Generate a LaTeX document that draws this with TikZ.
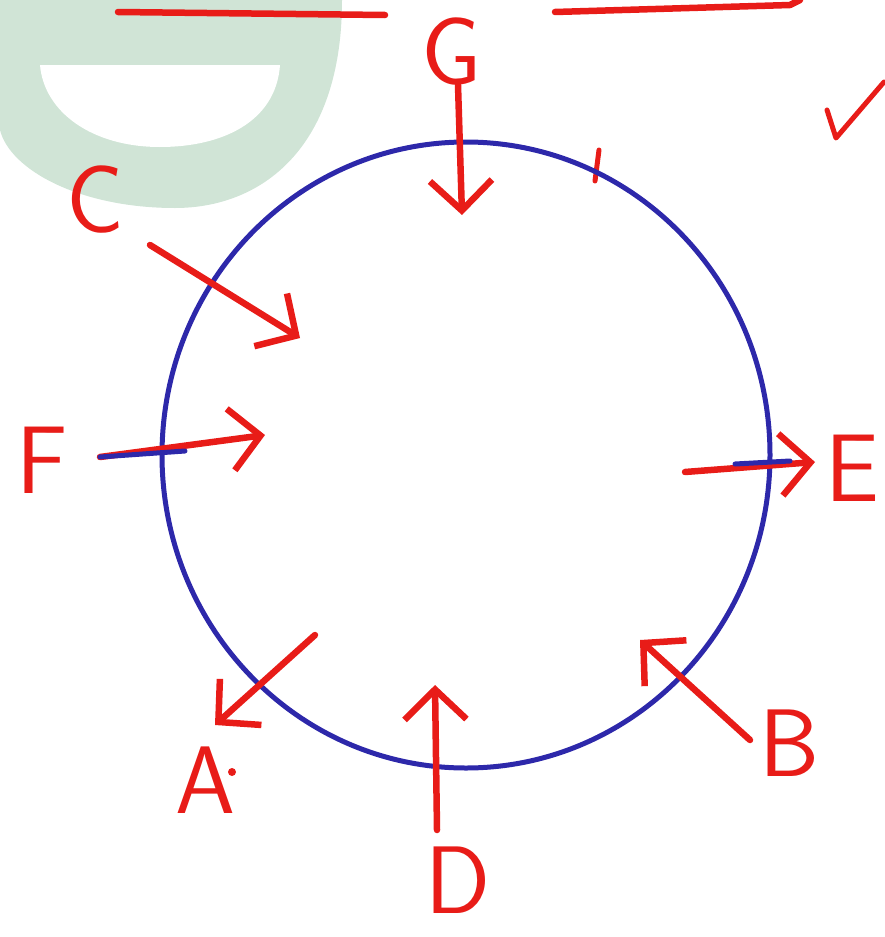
\documentclass[tikz,border=0pt]{standalone}
\usetikzlibrary{arrows.meta}
\definecolor{penred}{RGB}{232,28,24}
\definecolor{penblue}{RGB}{45,40,170}
\definecolor{wmgreen}{RGB}{208,228,214}
\tikzset{
  redpen/.style={draw=penred,line width=6.5pt,line cap=round,line join=round},
  bluepen/.style={draw=penblue,line width=5pt,line cap=round},
  vec/.style={redpen,-{Straight Barb[length=30pt,width=62pt,line width=6.5pt]}},
  lbl/.style={text=penred,font=\sffamily\fontsize{96}{96}\selectfont,inner sep=0pt}
}
\begin{document}
\begin{tikzpicture}[x=1pt,y=-1pt]
\useasboundingbox (0,0) rectangle (884,937);
% watermark
\fill[wmgreen] (0,0) -- (342,0) .. controls (342,150) and (260,208) .. (175,208)
   .. controls (80,208) and (10,170) .. (0,130) -- cycle;
\fill[white] (40,65) -- (280,65) .. controls (276,122) and (222,147) .. (160,147)
   .. controls (92,147) and (44,112) .. (40,65) -- cycle;
% top strokes
\draw[redpen] (118,12) -- (385,15);
\draw[redpen] (555,12) -- (790,5) -- (800,0);
\draw[redpen,line width=5pt] (827,110) -- (836,138) -- (884,82);
\draw[redpen,line width=5pt] (599,150) -- (595,181);
% circle
\draw[bluepen] (466,455) ellipse [x radius=304pt, y radius=313pt];
% labels
\node[lbl] (G) at (452,52) {G};
\node[lbl] (C) at (95,200) {C};
\node[lbl] (F) at (42,460) {F};
\node[lbl] (E) at (852,468) {E};
\node[lbl] (B) at (790,743) {B};
\node[lbl] (A) at (205,780) {A};
\node[lbl] (D) at (458,880) {D};
\fill[penred] (232,772) circle[radius=4pt];
% arrow end points
\coordinate (g1) at (458,85);  \coordinate (g2) at (462,215);
\coordinate (c1) at (150,245); \coordinate (c2) at (300,338);
\coordinate (f1) at (100,457); \coordinate (f2) at (265,435);
\coordinate (e1) at (685,472); \coordinate (e2) at (815,462);
\coordinate (b1) at (750,740); \coordinate (b2) at (640,640);
\coordinate (d1) at (437,830); \coordinate (d2) at (435,685);
\coordinate (a1) at (315,635); \coordinate (a2) at (215,725);
\draw[vec] (g1) -- (g2);
\draw[vec] (c1) -- (c2);
\draw[vec] (f1) -- (f2);
\draw[vec] (e1) -- (e2);
\draw[vec] (b1) -- (b2);
\draw[vec] (d1) -- (d2);
\draw[vec] (a1) -- (a2);
% blue overlays where the circle pen crossed
\coordinate (fb) at (185,451);
\draw[bluepen] (f1) -- (fb);
\coordinate (eb1) at (735,464); \coordinate (eb2) at (790,461);
\draw[bluepen] (eb1) -- (eb2);
\end{tikzpicture}
\end{document}
